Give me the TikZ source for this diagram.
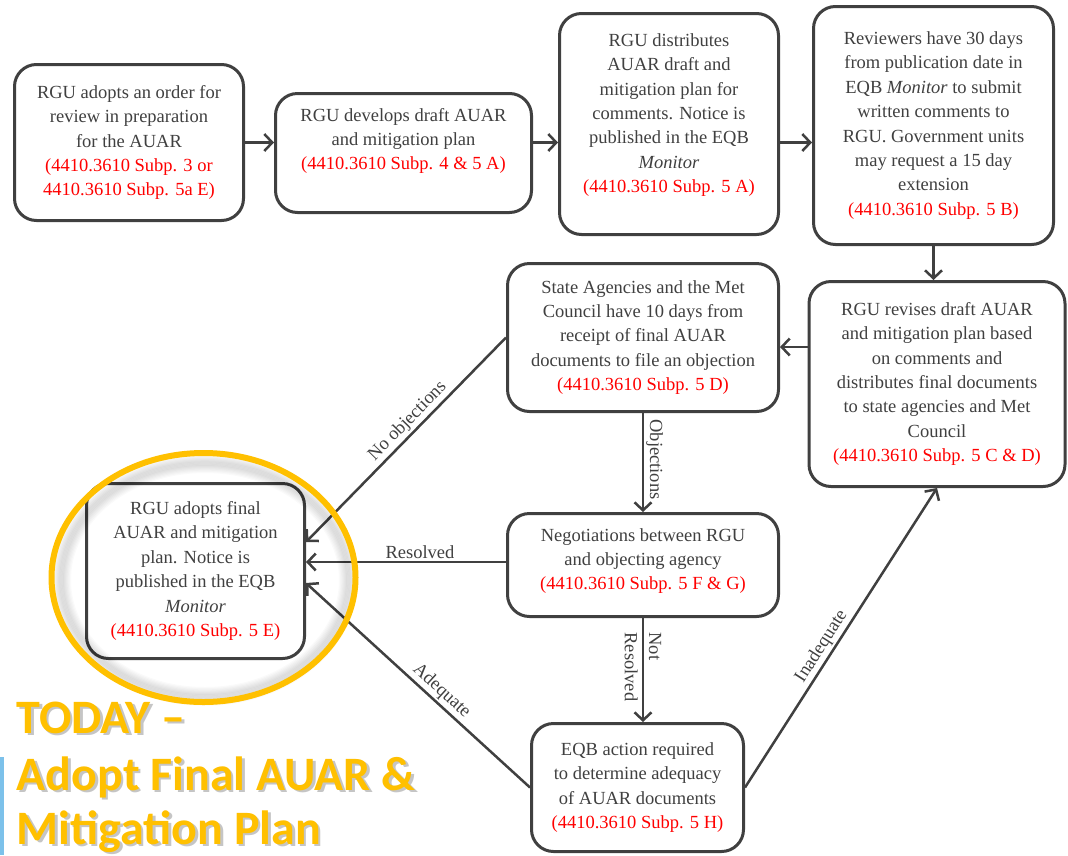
\documentclass[tikz,border=0pt]{standalone}
\usepackage{fontspec}
\setmainfont{Liberation Serif}
\newfontfamily\calfont{Carlito}
\usepackage{tikz}
\usetikzlibrary{
    arrows.meta,
    calc,
    positioning
}
\definecolor{boxgray}{HTML}{404040}
\definecolor{refred}{HTML}{FF0000}
\definecolor{todayorange}{HTML}{FFC000}
\definecolor{barblue}{HTML}{7CC1EA}
\newcommand{\subp}[1]{\textcolor{refred}{#1}}
\tikzset{rbox/.style={draw=boxgray, line width=3pt, rounded corners=22pt, align=center, text=boxgray, inner sep=0pt, font=\fontsize{18.5}{24.4}\selectfont},
    arr/.style={draw=boxgray, line width=2.5pt, -{Straight Barb[length=8pt,width=17pt]}},
    lbl/.style={text=boxgray, inner sep=2pt, font=\fontsize{18.5}{24.4}\selectfont},
    todaytxt/.style={anchor=base west, inner sep=0pt, text=todayorange, font=\calfont\bfseries\fontsize{48}{56}\selectfont},
    todayshd/.style={todaytxt, text=black!50, opacity=0.45}}

\begin{document}
\begin{tikzpicture}[x=1pt, y=-1pt]
                                \path[use as bounding box, fill=white] (0,0) rectangle (1068,855);
                                \node[rbox, minimum width=229pt, minimum height=156pt] (b1) at (129,142.5) {RGU adopts an order for\\review in preparation\\for the AUAR\\\subp{(4410.3610 Subp. 3 or}\\\subp{4410.3610 Subp. 5a E)}};
                                \node[rbox, minimum width=256pt, minimum height=119pt, text depth=28pt] (b2) at (403.5,153) {RGU develops draft AUAR\\and mitigation plan\\\subp{(4410.3610 Subp. 4 \& 5 A)}};
                                \node[rbox, minimum width=219pt, minimum height=221pt, text depth=22pt] (b3) at (669,124) {RGU distributes\\AUAR draft and\\mitigation plan for\\comments. Notice is\\published in the EQB\\\textit{Monitor}\\\subp{(4410.3610 Subp. 5 A)}};
                                \node[rbox, minimum width=240pt, minimum height=238pt] (b4) at (933.5,125.5) {Reviewers have 30 days\\from publication date in\\EQB \textit{Monitor} to submit\\written comments to\\RGU. Government units\\may request a 15 day\\extension\\\subp{(4410.3610 Subp. 5 B)}};
                                \node[rbox, minimum width=256pt, minimum height=205pt] (b5) at (937,384) {RGU revises draft AUAR\\and mitigation plan based\\on comments and\\distributes final documents\\to state agencies and Met\\Council\\\subp{(4410.3610 Subp. 5 C \& D)}};
                                \node[rbox, minimum width=271pt, minimum height=148pt] (b6) at (643,337.5) {State Agencies and the Met\\Council have 10 days from\\receipt of final AUAR\\documents to file an objection\\\subp{(4410.3610 Subp. 5 D)}};
                                \node[rbox, minimum width=218pt, minimum height=175pt] (b7) at (195.5,571) {RGU adopts final\\AUAR and mitigation\\plan. Notice is\\published in the EQB\\\textit{Monitor}\\\subp{(4410.3610 Subp. 5 E)}};
                                \node[rbox, minimum width=271pt, minimum height=103pt, text depth=12pt] (b8) at (643,565) {Negotiations between RGU\\and objecting agency\\\subp{(4410.3610 Subp. 5 F \& G)}};
                                \node[rbox, minimum width=212pt, minimum height=128pt] (b9) at (637.5,787.5) {EQB action required\\to determine adequacy\\of AUAR documents\\\subp{(4410.3610 Subp. 5 H)}};

                                \draw[arr] (b1.east) -- (b1.east -| b2.west);
                                \draw[arr] (b1.east -| b2.east) -- (b1.east -| b3.west);
                                \draw[arr] (b1.east -| b3.east) -- (b1.east -| b4.west);
                                \draw[arr] (b4.south) -- (b4.south |- b5.north);
                                \draw[arr] ([yshift=-9.5pt]b6.east -| b5.west) -- ([yshift=-9.5pt]b6.east);
                                \draw[arr] (b6.west) -- node[lbl, sloped, above, pos=0.45] {No objections} ([yshift=29pt]b7.east);
                                \draw[arr] ([yshift=9pt]b7.east -| b8.west) -- node[lbl, above, pos=0.43] {Resolved} ([yshift=9pt]b7.east);
                                \draw[arr] (b9.west) -- node[lbl, sloped, above, pos=0.43] {Adequate} ([yshift=-12pt]b7.east);
                                \draw[arr] (b6.south) -- node[lbl, rotate=-90, anchor=south, pos=0.47] {Objections} (b8.north);
                                \draw[arr] (b8.south) -- node[lbl, rotate=-90, align=left, pos=0.47] {Not\\Resolved} (b8.south |- b9.north);
                                \draw[arr] (b9.east) -- node[lbl, sloped, above, pos=0.45] {Inadequate} (b5.south);

                                \foreach \i in {1,...,10}
                                    \draw[black, opacity=0.018, line width=8pt] (205,580) ellipse [x radius={150pt-\i*1.2pt}, y radius={123pt-\i*1.2pt}];
                                \draw[todayorange, line width=6pt] (203.5,577.5) ellipse [x radius=152pt, y radius=124.5pt];

                                \fill[barblue] (0,757) rectangle (4,855);
                                \foreach \txt/\yb [count=\k] in {TODAY –/733, Adopt Final AUAR \&/790, Mitigation Plan/844} {
                                    \node[todayshd] (tds\k) at (19,\yb+2.5) {\txt};
                                    \node[todaytxt] (td\k) at (16.5,\yb) {\txt};
                                }
                            \end{tikzpicture}
\end{document}
